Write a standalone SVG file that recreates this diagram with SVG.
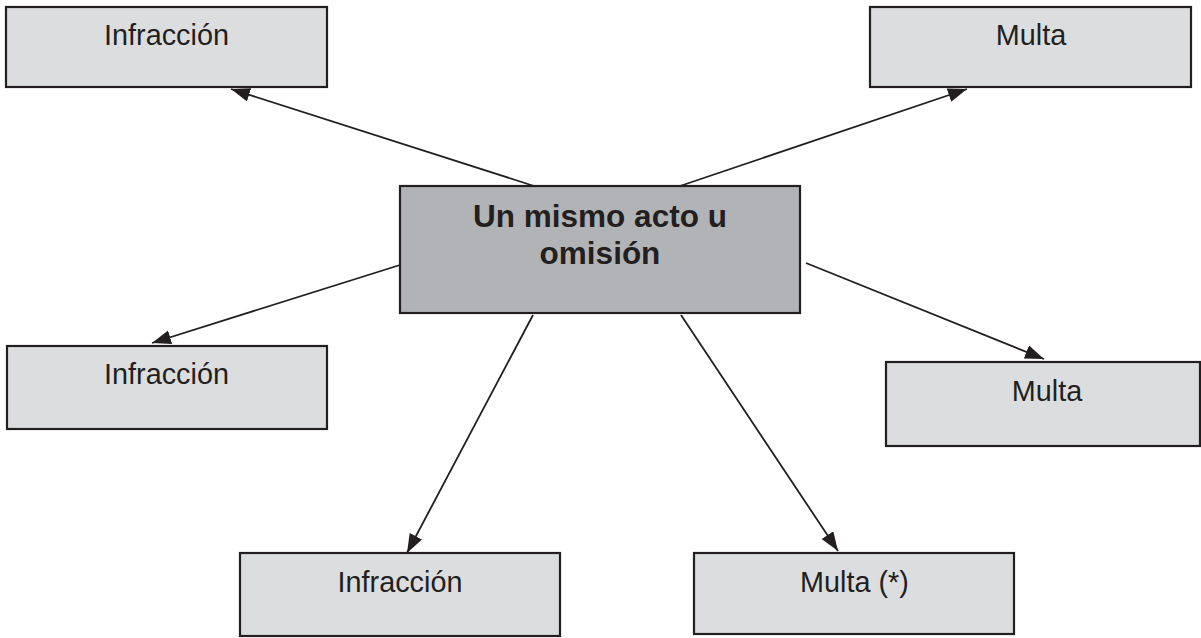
<svg xmlns="http://www.w3.org/2000/svg" width="1201" height="638" viewBox="0 0 1201 638">
<style>
.box{fill:#dcdddf;stroke:#231f20;stroke-width:2.2}
.main{fill:#b1b3b6;stroke:#231f20;stroke-width:2.2}
.t{font-family:"Liberation Sans",Arial,sans-serif;font-size:28.8px;fill:#231f20;text-anchor:middle}
.tb{font-family:"Liberation Sans",Arial,sans-serif;font-size:31.5px;font-weight:bold;fill:#231f20;text-anchor:middle}
.c line{stroke:#231f20;stroke-width:1.8;marker-end:url(#ah)}
</style>
<defs>
<marker id="ah" markerUnits="userSpaceOnUse" markerWidth="22" markerHeight="16" refX="19" refY="7" orient="auto">
<path d="M0,0 L19,7 L0,14 z" fill="#231f20"/>
</marker>
</defs>
<g class="c" id="connectors">
<line x1="534" y1="186" x2="231" y2="89"/>
<line x1="680" y1="186" x2="967" y2="89"/>
<line x1="400" y1="265" x2="152" y2="343"/>
<line x1="806" y1="263" x2="1044" y2="359"/>
<line x1="533" y1="315" x2="407" y2="553"/>
<line x1="681" y1="315" x2="838" y2="551"/>
</g>
<g id="n-main"><rect class="main" x="400" y="186" width="400" height="127"/><text class="tb" x="600" y="227">Un mismo acto u</text><text class="tb" x="600" y="264">omisión</text></g>
<g id="n-tl"><rect class="box" x="6" y="7" width="321" height="80"/><text class="t" x="166.5" y="45">Infracción</text></g>
<g id="n-tr"><rect class="box" x="870" y="7" width="321" height="80"/><text class="t" x="1031" y="45">Multa</text></g>
<g id="n-ml"><rect class="box" x="7" y="346" width="320" height="83"/><text class="t" x="166.5" y="384">Infracción</text></g>
<g id="n-mr"><rect class="box" x="886" y="362" width="314" height="84"/><text class="t" x="1047" y="401">Multa</text></g>
<g id="n-bl"><rect class="box" x="240" y="553" width="320" height="83"/><text class="t" x="400" y="592">Infracción</text></g>
<g id="n-br"><rect class="box" x="694" y="553" width="320" height="81"/><text class="t" x="854.5" y="592">Multa (*)</text></g>
</svg>
